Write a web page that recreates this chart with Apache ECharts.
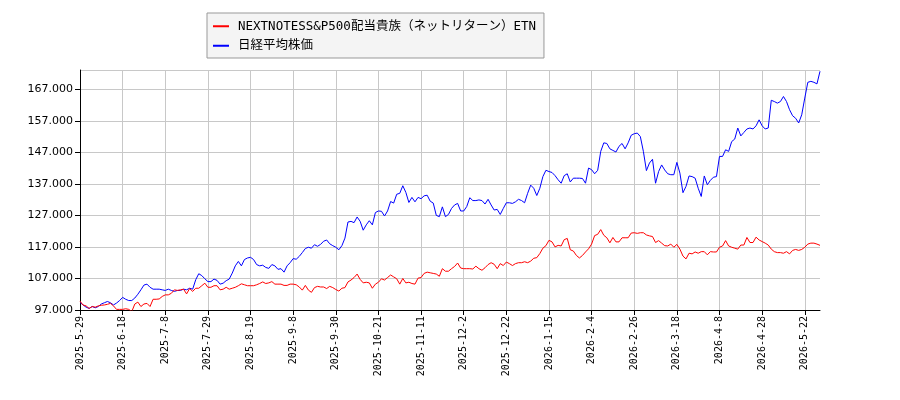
<!DOCTYPE html>
<html>
<head>
<meta charset="utf-8">
<script src="https://cdn.jsdelivr.net/npm/echarts@6/dist/echarts.min.js"></script>
<style>
  html, body { margin: 0; padding: 0; background: #fff; }
  #chart { width: 900px; height: 400px; }
</style>
</head>
<body>
<div id="chart"></div>
<script>
// Tokyo exchange closed days inside the range
const holidays = [
  "2025-7-21", "2025-8-11", "2025-9-15", "2025-9-23", "2025-10-13",
  "2025-11-3", "2025-11-24", "2025-12-31", "2026-1-1", "2026-1-2",
  "2026-1-12", "2026-2-11", "2026-2-23", "2026-3-20", "2026-4-29",
  "2026-5-4", "2026-5-5", "2026-5-6"
];
const firstDay = "2025-5-29";
const lastDay = "2026-5-29";

const etnName = "NEXTNOTESS&P500配当貴族（ネットリターン）ETN";
const nikkeiName = "日経平均株価";

const etnValues = [
  99800, 98600, 98300, 97500, 98100, 97900, 98300, 98500, 98600, 98800,
  99100, 98300, 97200, 97200, 97200, 97400, 97200, 96500, 98900, 99500,
  98100, 98900, 99100, 98100, 100400, 100400, 100500, 101300, 101800, 101800,
  102300, 103400, 103200, 103400, 103600, 102100, 103800, 102900, 103900, 103900,
  104700, 105500, 104200, 104200, 104700, 104700, 103400, 103600, 104200, 103600,
  103900, 104200, 104700, 105300, 105000, 104700, 104700, 104700, 105000, 105400,
  105900, 105400, 105600, 106000, 105200, 105200, 105200, 104800, 104800, 105200,
  105200, 105000, 104300, 103300, 104800, 103300, 102600, 104100, 104500, 104300,
  104300, 103800, 104500, 104100, 103500, 103000, 103900, 104100, 105900, 106500,
  107300, 108400, 106700, 105600, 105800, 105600, 103900, 105200, 105800, 106900,
  106500, 107300, 108100, 107500, 106900, 105200, 107000, 105600, 105800, 105400,
  105200, 107100, 107300, 108600, 109000, 108800, 108600, 108400, 107700, 110100,
  109300, 109300, 110100, 110800, 111900, 110300, 110100, 110100, 110100, 110000,
  110900, 110100, 109600, 110400, 111400, 112000, 111500, 110100, 111700, 111100,
  112200, 111700, 111100, 111700, 112000, 112000, 112300, 112000, 112500, 113400,
  113600, 114900, 116600, 117400, 119100, 118600, 117000, 117500, 117300, 119300,
  119700, 116100, 115700, 114300, 113500, 114300, 115400, 116400, 117900, 120600,
  121000, 122500, 120700, 119900, 118300, 120000, 118600, 118600, 119900, 119900,
  119900, 121400, 121500, 121300, 121500, 121500, 120800, 120500, 120300, 118400,
  119000, 118200, 117400, 117300, 117900, 116900, 117800, 116300, 114100, 113200,
  115000, 114800, 115400, 115000, 115500, 115500, 114500, 115500, 115400, 115400,
  116900, 117300, 119000, 117300, 116900, 116600, 116300, 117600, 117600, 120000,
  118400, 118400, 120100, 119200, 118700, 118200, 117600, 116300, 115500, 115200,
  115200, 115000, 115500, 114800, 115900, 116200, 115900, 116200, 116900, 117900,
  118200, 118200, 117900, 117500
];

const nikkeiValues = [
  99400, 98600, 97900, 97500, 98100, 97700, 98100, 98900, 99300, 99700,
  99300, 98600, 99200, 100000, 101000, 100400, 100000, 100000, 100800, 102000,
  103400, 104900, 105200, 104200, 103600, 103600, 103600, 103400, 103200, 103600,
  103200, 102900, 103200, 103200, 103600, 103400, 103900, 103600, 106600, 108500,
  107900, 106900, 106000, 106000, 106800, 106400, 105200, 105500, 106300, 106800,
  108700, 111000, 112400, 111000, 113000, 113500, 113700, 113000, 111400, 111000,
  111200, 110500, 110200, 111400, 111000, 109900, 110100, 109000, 111000, 112000,
  113300, 113100, 114000, 115200, 116500, 116900, 116600, 117700, 117200, 117800,
  118800, 119200, 118000, 117400, 116900, 116100, 117400, 119800, 124900, 125100,
  124700, 126500, 125100, 122300, 124000, 125300, 124000, 127900, 128400, 128300,
  126800, 128400, 131400, 130900, 133700, 134000, 136400, 134300, 131100, 132700,
  131300, 132700, 132300, 133200, 133400, 131500, 130900, 127000, 126600, 129700,
  126600, 127300, 129200, 130300, 130800, 128400, 128400, 129800, 132600, 131700,
  131700, 131900, 131700, 130600, 132100, 130300, 128700, 128900, 127300, 129200,
  131000, 131000, 130800, 131300, 132100, 131700, 131000, 134000, 136600, 135600,
  133300, 135600, 139300, 141300, 140900, 140600, 139600, 138300, 137200, 139600,
  140200, 137600, 138800, 138800, 138800, 138700, 137200, 142000, 141500, 140200,
  141300, 147300, 150000, 149800, 148100, 147600, 147100, 148900, 149800, 148100,
  150000, 152400, 152900, 153100, 152000, 147300, 141200, 143600, 144800, 137200,
  140900, 143000, 141400, 140200, 139900, 139900, 143800, 140400, 134200, 136200,
  139500, 139300, 138800, 135600, 133000, 139500, 136700, 138100, 139100, 139300,
  145700, 145700, 147800, 147300, 150400, 151200, 154700, 152200, 153300, 154400,
  154700, 154400, 155400, 157300, 155400, 154400, 154700, 163500, 163100, 162600,
  163100, 164700, 163100, 160500, 158600, 157800, 156300, 158900, 164200, 169200,
  169500, 169200, 168700, 172700
];

const yMin = 97000;
const yMax = 173100;
const yStep = 10000;
const labelEvery = 14;

// trading days between firstDay and lastDay
const toDate = (s) => {
  const p = s.split("-").map(Number);
  return new Date(p[0], p[1] - 1, p[2]);
};
const fmt = (d) => d.getFullYear() + "-" + (d.getMonth() + 1) + "-" + d.getDate();

let dates = [];
for (let d = toDate(firstDay); d <= toDate(lastDay); d.setDate(d.getDate() + 1)) {
  const wd = d.getDay();
  if (wd === 0 || wd === 6) continue;
  if (holidays.includes(fmt(d))) continue;
  dates.push(fmt(d));
}

const dotted = (v) => String(v).replace(/\B(?=(\d{3})+(?!\d))/g, ".");

const chart = echarts.init(document.getElementById("chart"));
chart.setOption({
  animation: false,
  legend: {
    orient: "vertical",
    left: 207,
    top: 13,
    padding: [7, 8, 6, 6],
    itemGap: 7,
    itemWidth: 16,
    itemHeight: 2,
    icon: "rect",
    backgroundColor: "#f4f4f4",
    borderColor: "#999",
    borderWidth: 1,
    borderRadius: 0,
    textStyle: {
      fontFamily: "'DejaVu Sans Mono', 'Noto Sans CJK JP', monospace",
      fontSize: 12.5,
      color: "#000",
      padding: [0, 0, 0, 4]
    },
    data: [etnName, nikkeiName]
  },
  grid: {
    left: 80,
    right: 80,
    top: 70,
    bottom: 90,
    containLabel: false
  },
  xAxis: {
    type: "category",
    boundaryGap: false,
    data: dates,
    axisLine: { lineStyle: { color: "#000", width: 1 } },
    axisTick: { interval: labelEvery - 1, length: 5, lineStyle: { color: "#000" } },
    axisLabel: {
      interval: labelEvery - 1,
      rotate: 90,
      margin: 6,
      color: "#000",
      fontFamily: "'DejaVu Sans Mono', monospace",
      fontSize: 10
    },
    splitLine: {
      show: true,
      interval: labelEvery - 1,
      lineStyle: { color: "#c8c8c8", width: 1 }
    }
  },
  yAxis: {
    type: "value",
    min: yMin,
    max: yMax,
    interval: yStep,
    axisLine: { show: true, lineStyle: { color: "#000", width: 1 } },
    axisTick: { show: true, length: 5, lineStyle: { color: "#000" } },
    axisLabel: {
      showMaxLabel: false,
      margin: 7,
      color: "#000",
      fontFamily: "'DejaVu Sans', sans-serif",
      fontSize: 11,
      formatter: dotted
    },
    splitLine: { lineStyle: { color: "#c8c8c8", width: 1 } }
  },
  series: [
    {
      name: etnName,
      type: "line",
      data: etnValues,
      showSymbol: false,
      lineStyle: { color: "#ff0000", width: 1 },
      itemStyle: { color: "#ff0000" },
      z: 3
    },
    {
      name: nikkeiName,
      type: "line",
      data: nikkeiValues,
      showSymbol: false,
      lineStyle: { color: "#0000ff", width: 1 },
      itemStyle: { color: "#0000ff" },
      z: 2
    }
  ]
});
</script>
</body>
</html>
